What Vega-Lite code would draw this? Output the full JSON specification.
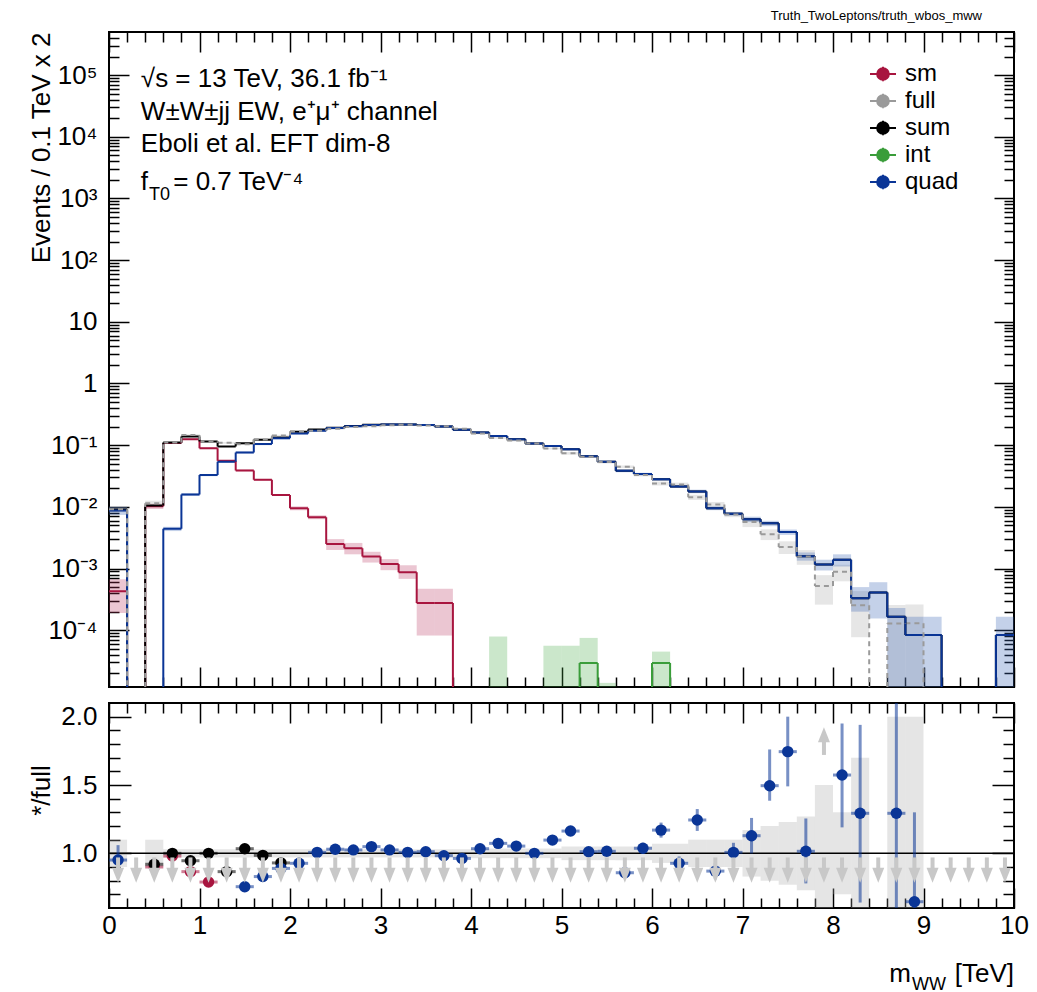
{
"$schema":"https://vega.github.io/schema/vega-lite/v6.json",
"autosize":{"type":"pad"},
"padding":{"left":26,"top":9,"right":0,"bottom":0},
"background":"white",
"bounds":"flush",
"spacing":16,
"datasets":{
"bins":[
{"x0":0,"x1":0.2,"xc":0.1,"sm":0.00043,"sml":0.00019,"smh":0.00067,"full":0.00915,"fl":0.0082,"fh":0.0101,"sum":0.0091,"int":0,"quad":0.0087,"ql":0.0074,"qh":0.01,"bl":0.9,"bh":1.1},
{"x0":0.2,"x1":0.4,"xc":0.3,"sm":0,"full":0,"sum":0,"int":0,"quad":0},
{"x0":0.4,"x1":0.6,"xc":0.5,"sm":0.0102,"sml":0.0092,"smh":0.0112,"full":0.0114,"fl":0.0103,"fh":0.0125,"sum":0.0105,"int":0,"quad":0,"bl":0.9,"bh":1.1},
{"x0":0.6,"x1":0.8,"xc":0.7,"sm":0.108,"sml":0.1048,"smh":0.1112,"full":0.11,"fl":0.1067,"fh":0.1133,"sum":0.11,"int":0,"quad":0.0044,"ql":0.00405,"qh":0.00475,"bl":0.97,"bh":1.03},
{"x0":0.8,"x1":1.0,"xc":0.9,"sm":0.125,"sml":0.1213,"smh":0.1288,"full":0.146,"fl":0.1416,"fh":0.1504,"sum":0.138,"int":0,"quad":0.0158,"ql":0.015,"qh":0.0166,"bl":0.97,"bh":1.03},
{"x0":1.0,"x1":1.2,"xc":1.1,"sm":0.089,"sml":0.0863,"smh":0.0917,"full":0.115,"fl":0.1116,"fh":0.1185,"sum":0.115,"int":0,"quad":0.0327,"ql":0.0314,"qh":0.034,"bl":0.97,"bh":1.03},
{"x0":1.2,"x1":1.4,"xc":1.3,"sm":0.0557,"sml":0.054,"smh":0.0574,"full":0.109,"fl":0.1057,"fh":0.1123,"sum":0.095,"int":0,"quad":0.054,"ql":0.0518,"qh":0.0562,"bl":0.97,"bh":1.03},
{"x0":1.4,"x1":1.6,"xc":1.5,"sm":0.039,"sml":0.0378,"smh":0.0402,"full":0.1035,"fl":0.1004,"fh":0.1066,"sum":0.107,"int":0,"quad":0.076,"ql":0.073,"qh":0.079,"bl":0.97,"bh":1.03},
{"x0":1.6,"x1":1.8,"xc":1.7,"sm":0.0275,"sml":0.0267,"smh":0.0283,"full":0.124,"fl":0.1203,"fh":0.1277,"sum":0.122,"int":0,"quad":0.104,"ql":0.0998,"qh":0.1082,"bl":0.97,"bh":1.03},
{"x0":1.8,"x1":2.0,"xc":1.9,"sm":0.0155,"sml":0.015,"smh":0.016,"full":0.143,"fl":0.1387,"fh":0.1473,"sum":0.133,"int":0,"quad":0.13,"ql":0.1248,"qh":0.1352,"bl":0.97,"bh":1.03},
{"x0":2.0,"x1":2.2,"xc":2.1,"sm":0.0095,"sml":0.0088,"smh":0.0102,"full":0.167,"fl":0.162,"fh":0.172,"sum":0.1645,"int":0,"quad":0.155,"ql":0.1504,"qh":0.1597,"bl":0.97,"bh":1.03},
{"x0":2.2,"x1":2.4,"xc":2.3,"sm":0.0068,"sml":0.0063,"smh":0.0073,"full":0.171,"fl":0.1659,"fh":0.1761,"sum":0.179,"int":0,"quad":0.172,"ql":0.1668,"qh":0.1772,"bl":0.97,"bh":1.03},
{"x0":2.4,"x1":2.6,"xc":2.5,"sm":0.0025,"sml":0.002,"smh":0.003,"full":0.184,"fl":0.1785,"fh":0.1895,"sum":0.1925,"int":0,"quad":0.19,"ql":0.1843,"qh":0.1957,"bl":0.97,"bh":1.03},
{"x0":2.6,"x1":2.8,"xc":2.7,"sm":0.00214,"sml":0.0017,"smh":0.0026,"full":0.198,"fl":0.1921,"fh":0.2039,"sum":0.205,"int":0,"quad":0.203,"ql":0.1969,"qh":0.2091,"bl":0.97,"bh":1.03},
{"x0":2.8,"x1":3.0,"xc":2.9,"sm":0.00156,"sml":0.00125,"smh":0.00187,"full":0.202,"fl":0.1959,"fh":0.2081,"sum":0.2136,"int":0,"quad":0.212,"ql":0.2056,"qh":0.2184,"bl":0.97,"bh":1.03},
{"x0":3.0,"x1":3.2,"xc":3.1,"sm":0.00118,"sml":0.00094,"smh":0.00142,"full":0.211,"fl":0.2047,"fh":0.2173,"sum":0.2172,"int":0,"quad":0.216,"ql":0.2095,"qh":0.2225,"bl":0.97,"bh":1.03},
{"x0":3.2,"x1":3.4,"xc":3.3,"sm":0.00087,"sml":0.00068,"smh":0.00113,"full":0.214,"fl":0.2076,"fh":0.2204,"sum":0.2169,"int":0,"quad":0.216,"ql":0.2095,"qh":0.2225,"bl":0.97,"bh":1.03},
{"x0":3.4,"x1":3.6,"xc":3.5,"sm":0.000277,"sml":0.000082,"smh":0.00047,"full":0.209,"fl":0.2027,"fh":0.2153,"sum":0.2123,"int":0,"quad":0.212,"ql":0.2056,"qh":0.2184,"bl":0.97,"bh":1.03},
{"x0":3.6,"x1":3.8,"xc":3.7,"sm":0.000277,"sml":0.000082,"smh":0.00047,"full":0.203,"fl":0.1969,"fh":0.2091,"sum":0.2003,"int":0,"quad":0.2,"ql":0.194,"qh":0.206,"bl":0.97,"bh":1.03},
{"x0":3.8,"x1":4.0,"xc":3.9,"sm":0,"full":0.185,"fl":0.1795,"fh":0.1906,"sum":0.178,"int":0,"quad":0.178,"ql":0.1727,"qh":0.1833,"bl":0.97,"bh":1.03},
{"x0":4.0,"x1":4.2,"xc":4.1,"sm":0,"full":0.155,"fl":0.1496,"fh":0.1604,"sum":0.16,"int":0,"quad":0.16,"ql":0.1552,"qh":0.1648,"bl":0.965,"bh":1.035},
{"x0":4.2,"x1":4.4,"xc":4.3,"sm":0,"full":0.131,"fl":0.1264,"fh":0.1356,"sum":0.141,"int":0,"il":0,"ih":0.000079,"quad":0.141,"ql":0.1368,"qh":0.1452,"bl":0.965,"bh":1.035},
{"x0":4.4,"x1":4.6,"xc":4.5,"sm":0,"full":0.119,"fl":0.1148,"fh":0.1232,"sum":0.125,"int":0,"quad":0.125,"ql":0.1213,"qh":0.1288,"bl":0.965,"bh":1.035},
{"x0":4.6,"x1":4.8,"xc":4.7,"sm":0,"full":0.106,"fl":0.1023,"fh":0.1097,"sum":0.106,"int":0,"quad":0.106,"ql":0.1028,"qh":0.1092,"bl":0.965,"bh":1.035},
{"x0":4.8,"x1":5.0,"xc":4.9,"sm":0,"full":0.0884,"fl":0.0853,"fh":0.0915,"sum":0.097,"int":0,"il":0,"ih":0.000056,"quad":0.097,"ql":0.0941,"qh":0.0999,"bl":0.965,"bh":1.035},
{"x0":5.0,"x1":5.2,"xc":5.1,"sm":0,"full":0.0739,"fl":0.0702,"fh":0.0776,"sum":0.086,"int":0,"il":0,"ih":0.000056,"quad":0.086,"ql":0.0834,"qh":0.0886,"bl":0.95,"bh":1.05},
{"x0":5.2,"x1":5.4,"xc":5.3,"sm":0,"full":0.0652,"fl":0.0619,"fh":0.0685,"sum":0.066,"int":0.0000295,"il":0,"ih":0.000075,"quad":0.066,"ql":0.064,"qh":0.068,"bl":0.95,"bh":1.05},
{"x0":5.4,"x1":5.6,"xc":5.5,"sm":0,"full":0.0532,"fl":0.0505,"fh":0.0559,"sum":0.054,"int":0,"il":0,"ih":0.000014,"quad":0.054,"ql":0.0524,"qh":0.0556,"bl":0.95,"bh":1.05},
{"x0":5.6,"x1":5.8,"xc":5.7,"sm":0,"full":0.0448,"fl":0.0426,"fh":0.047,"sum":0.0384,"int":0,"quad":0.0384,"ql":0.0365,"qh":0.0403,"bl":0.95,"bh":1.05},
{"x0":5.8,"x1":6.0,"xc":5.9,"sm":0,"full":0.0328,"fl":0.0312,"fh":0.0344,"sum":0.034,"int":0,"quad":0.034,"ql":0.0323,"qh":0.0357,"bl":0.95,"bh":1.05},
{"x0":6.0,"x1":6.2,"xc":6.1,"sm":0,"full":0.0239,"fl":0.0222,"fh":0.0256,"sum":0.028,"int":0.0000295,"il":0,"ih":0.000045,"quad":0.028,"ql":0.0266,"qh":0.0294,"bl":0.93,"bh":1.07},
{"x0":6.2,"x1":6.4,"xc":6.3,"sm":0,"full":0.0231,"fl":0.0215,"fh":0.0247,"sum":0.0214,"int":0,"quad":0.0214,"ql":0.0203,"qh":0.0225,"bl":0.93,"bh":1.07},
{"x0":6.4,"x1":6.6,"xc":6.5,"sm":0,"full":0.0143,"fl":0.0129,"fh":0.0157,"sum":0.0178,"int":0,"quad":0.0178,"ql":0.0166,"qh":0.019,"bl":0.9,"bh":1.1},
{"x0":6.6,"x1":6.8,"xc":6.7,"sm":0,"full":0.0109,"fl":0.0098,"fh":0.012,"sum":0.0095,"int":0,"quad":0.0095,"ql":0.00884,"qh":0.01017,"bl":0.9,"bh":1.1},
{"x0":6.8,"x1":7.0,"xc":6.9,"sm":0,"full":0.00755,"fl":0.0068,"fh":0.0083,"sum":0.0077,"int":0,"quad":0.0077,"ql":0.00716,"qh":0.00824,"bl":0.9,"bh":1.1},
{"x0":7.0,"x1":7.2,"xc":7.1,"sm":0,"full":0.00567,"fl":0.0047,"fh":0.00663,"sum":0.0063,"int":0,"quad":0.0063,"ql":0.00567,"qh":0.00693,"bl":0.83,"bh":1.17},
{"x0":7.2,"x1":7.4,"xc":7.3,"sm":0,"full":0.00361,"fl":0.00289,"fh":0.00433,"sum":0.0054,"int":0,"quad":0.0054,"ql":0.00486,"qh":0.00594,"bl":0.8,"bh":1.2},
{"x0":7.4,"x1":7.6,"xc":7.5,"sm":0,"full":0.00224,"fl":0.00172,"fh":0.00276,"sum":0.0039,"int":0,"quad":0.0039,"ql":0.00351,"qh":0.00429,"bl":0.77,"bh":1.23},
{"x0":7.6,"x1":7.8,"xc":7.7,"sm":0,"full":0.00157,"fl":0.00115,"fh":0.00199,"sum":0.00158,"int":0,"quad":0.00158,"ql":0.00134,"qh":0.00182,"bl":0.73,"bh":1.27},
{"x0":7.8,"x1":8.0,"xc":7.9,"sm":0,"full":0.00052,"fl":0.00026,"fh":0.00078,"sum":0.00116,"int":0,"quad":0.00116,"ql":0.00093,"qh":0.00139,"bl":0.5,"bh":1.5},
{"x0":8.0,"x1":8.2,"xc":8.1,"sm":0,"full":0.000884,"fl":0.00062,"fh":0.00115,"sum":0.00139,"int":0,"quad":0.00139,"ql":0.00108,"qh":0.0017,"bl":0.7,"bh":1.3},
{"x0":8.2,"x1":8.4,"xc":8.3,"sm":0,"full":0.000255,"fl":0.000077,"fh":0.00043,"sum":0.00033,"int":0,"quad":0.00033,"ql":0.0002,"qh":0.0005,"bl":0.3,"bh":1.7},
{"x0":8.4,"x1":8.6,"xc":8.5,"sm":0,"full":0,"sum":0.00041,"int":0,"quad":0.00041,"ql":0.000155,"qh":0.0006},
{"x0":8.6,"x1":8.8,"xc":8.7,"sm":0,"full":0.000128,"fl":0,"fh":0.000256,"sum":0.000166,"int":0,"quad":0.000166,"ql":0,"qh":0.00023,"bl":0,"bh":2},
{"x0":8.8,"x1":9.0,"xc":8.9,"sm":0,"full":0.00013,"fl":0,"fh":0.00026,"sum":0.000084,"int":0,"quad":0.000084,"ql":0,"qh":0.000166,"bl":0,"bh":2},
{"x0":9.0,"x1":9.2,"xc":9.1,"sm":0,"full":0,"sum":0.000084,"int":0,"quad":0.000084,"ql":0,"qh":0.000166},
{"x0":9.2,"x1":9.4,"xc":9.3,"sm":0,"full":0,"sum":0,"int":0,"quad":0},
{"x0":9.4,"x1":9.6,"xc":9.5,"sm":0,"full":0,"sum":0,"int":0,"quad":0},
{"x0":9.6,"x1":9.8,"xc":9.7,"sm":0,"full":0,"sum":0,"int":0,"quad":0},
{"x0":9.8,"x1":10,"xc":9.9,"sm":0,"full":0,"sum":0.000084,"int":0,"quad":0.000084,"ql":0,"qh":0.000166}
],
"pts":[
{"s":"sm","x":0.5,"x0":0.4,"x1":0.6,"r":0.9,"lo":0.88,"hi":0.92},
{"s":"sm","x":0.7,"x0":0.6,"x1":0.8,"r":0.98,"lo":0.96,"hi":1.0},
{"s":"sm","x":0.9,"x0":0.8,"x1":1.0,"r":0.866,"lo":0.846,"hi":0.886},
{"s":"sm","x":1.1,"x0":1.0,"x1":1.2,"r":0.79,"lo":0.77,"hi":0.81},
{"s":"sum","x":0.5,"x0":0.4,"x1":0.6,"r":0.92,"lo":0.9,"hi":0.94},
{"s":"sum","x":0.7,"x0":0.6,"x1":0.8,"r":1.0,"lo":0.98,"hi":1.02},
{"s":"sum","x":0.9,"x0":0.8,"x1":1.0,"r":0.946,"lo":0.926,"hi":0.966},
{"s":"sum","x":1.1,"x0":1.0,"x1":1.2,"r":1.0,"lo":0.98,"hi":1.02},
{"s":"sum","x":1.3,"x0":1.2,"x1":1.4,"r":0.866,"lo":0.846,"hi":0.886},
{"s":"sum","x":1.5,"x0":1.4,"x1":1.6,"r":1.034,"lo":1.014,"hi":1.054},
{"s":"sum","x":1.7,"x0":1.6,"x1":1.8,"r":0.985,"lo":0.965,"hi":1.005},
{"s":"sum","x":1.9,"x0":1.8,"x1":2.0,"r":0.93,"lo":0.91,"hi":0.95},
{"s":"quad","x":0.1,"x0":0.0,"x1":0.2,"r":0.951,"lo":0.85,"hi":1.06},
{"s":"quad","x":1.5,"x0":1.4,"x1":1.6,"r":0.756,"lo":0.726,"hi":0.786},
{"s":"quad","x":1.7,"x0":1.6,"x1":1.8,"r":0.83,"lo":0.8,"hi":0.86},
{"s":"quad","x":1.9,"x0":1.8,"x1":2.0,"r":0.89,"lo":0.86,"hi":0.92},
{"s":"quad","x":2.1,"x0":2.0,"x1":2.2,"r":0.927,"lo":0.907,"hi":0.947},
{"s":"quad","x":2.3,"x0":2.2,"x1":2.4,"r":1.007,"lo":0.987,"hi":1.027},
{"s":"quad","x":2.5,"x0":2.4,"x1":2.6,"r":1.03,"lo":1.01,"hi":1.05},
{"s":"quad","x":2.7,"x0":2.6,"x1":2.8,"r":1.025,"lo":1.005,"hi":1.045},
{"s":"quad","x":2.9,"x0":2.8,"x1":3.0,"r":1.049,"lo":1.029,"hi":1.069},
{"s":"quad","x":3.1,"x0":3.0,"x1":3.2,"r":1.025,"lo":1.005,"hi":1.045},
{"s":"quad","x":3.3,"x0":3.2,"x1":3.4,"r":1.007,"lo":0.987,"hi":1.027},
{"s":"quad","x":3.5,"x0":3.4,"x1":3.6,"r":1.012,"lo":0.992,"hi":1.032},
{"s":"quad","x":3.7,"x0":3.6,"x1":3.8,"r":0.983,"lo":0.963,"hi":1.003},
{"s":"quad","x":3.9,"x0":3.8,"x1":4.0,"r":0.963,"lo":0.943,"hi":0.983},
{"s":"quad","x":4.1,"x0":4.0,"x1":4.2,"r":1.034,"lo":1.014,"hi":1.054},
{"s":"quad","x":4.3,"x0":4.2,"x1":4.4,"r":1.073,"lo":1.053,"hi":1.093},
{"s":"quad","x":4.5,"x0":4.4,"x1":4.6,"r":1.053,"lo":1.033,"hi":1.073},
{"s":"quad","x":4.7,"x0":4.6,"x1":4.8,"r":1.0,"lo":0.98,"hi":1.02},
{"s":"quad","x":4.9,"x0":4.8,"x1":5.0,"r":1.097,"lo":1.072,"hi":1.122},
{"s":"quad","x":5.1,"x0":5.0,"x1":5.2,"r":1.163,"lo":1.133,"hi":1.193},
{"s":"quad","x":5.3,"x0":5.2,"x1":5.4,"r":1.012,"lo":0.982,"hi":1.042},
{"s":"quad","x":5.5,"x0":5.4,"x1":5.6,"r":1.015,"lo":0.985,"hi":1.045},
{"s":"quad","x":5.7,"x0":5.6,"x1":5.8,"r":0.858,"lo":0.828,"hi":0.888},
{"s":"quad","x":5.9,"x0":5.8,"x1":6.0,"r":1.037,"lo":0.997,"hi":1.077},
{"s":"quad","x":6.1,"x0":6.0,"x1":6.2,"r":1.17,"lo":1.115,"hi":1.225},
{"s":"quad","x":6.3,"x0":6.2,"x1":6.4,"r":0.927,"lo":0.877,"hi":0.977},
{"s":"quad","x":6.5,"x0":6.4,"x1":6.6,"r":1.244,"lo":1.164,"hi":1.324},
{"s":"quad","x":6.7,"x0":6.6,"x1":6.8,"r":0.87,"lo":0.81,"hi":0.93},
{"s":"quad","x":6.9,"x0":6.8,"x1":7.0,"r":1.007,"lo":0.937,"hi":1.077},
{"s":"quad","x":7.1,"x0":7.0,"x1":7.2,"r":1.129,"lo":0.999,"hi":1.259},
{"s":"quad","x":7.3,"x0":7.2,"x1":7.4,"r":1.495,"lo":1.385,"hi":1.76},
{"s":"quad","x":7.5,"x0":7.4,"x1":7.6,"r":1.744,"lo":1.49,"hi":2.0},
{"s":"quad","x":7.7,"x0":7.6,"x1":7.8,"r":1.015,"lo":0.78,"hi":1.255},
{"s":"quad","x":8.1,"x0":8.0,"x1":8.2,"r":1.573,"lo":1.19,"hi":1.95},
{"s":"quad","x":8.3,"x0":8.2,"x1":8.4,"r":1.293,"lo":0.64,"hi":1.94},
{"s":"quad","x":8.7,"x0":8.6,"x1":8.8,"r":1.293,"lo":0.0,"hi":2.6},
{"s":"quad","x":8.9,"x0":8.8,"x1":9.0,"r":0.646,"lo":0.0,"hi":1.3}
]
},
"vconcat":[
{
"width":905,"height":655,
"title":{"text":"Truth_TwoLeptons/truth_wbos_mww","anchor":"end","fontSize":13,"fontWeight":"normal","font":"Liberation Sans","color":"black","offset":8,"dx":-33},
"data":{"name":"bins"},
"layer":[
{"transform":[{"filter":"isValid(datum.sml)"}],
 "mark":{"type":"rect","fill":"#b8325c","fillOpacity":0.28},
 "encoding":{
  "x":{"field":"x0","type":"quantitative","scale":{"domain":[0,10],"nice":false,"zero":false},"axis":{"orient":"bottom","values":[0,1,2,3,4,5,6,7,8,9,10],"labels":false,"tickSize":-20,"title":null}},
  "x2":{"field":"x1"},
  "y":{"field":"sml","type":"quantitative","scale":{"type":"log","domain":[0.000012,500000],"nice":false,"clamp":true},"axis":{"orient":"left","values":[0.0001,0.001,0.01,0.1,1,10,100,1000,10000,100000],"labelExpr":"datum.value > 50000 ? '10⁵' : datum.value > 5000 ? '10⁴' : datum.value > 500 ? '10³' : datum.value > 50 ? '10²' : datum.value > 5 ? '10' : datum.value > 0.5 ? '1' : datum.value > 0.05 ? '10⁻¹' : datum.value > 0.005 ? '10⁻²' : datum.value > 0.0005 ? '10⁻³' : '10⁻⁴'","tickSize":-20,"labelPadding":32,"title":"Events / 0.1 TeV x 2","titleAngle":-90,"titleX":-68,"titleY":0,"titleAlign":"right","titleBaseline":"middle"}},
  "y2":{"field":"smh"}}},
{"transform":[{"filter":"isValid(datum.fl)"}],
 "mark":{"type":"rect","fill":"#9a9a9a","fillOpacity":0.25},
 "encoding":{
  "x":{"field":"x0","type":"quantitative","axis":{"orient":"bottom","values":[0.2,0.4,0.6,0.8,1.2,1.4,1.6,1.8,2.2,2.4,2.6,2.8,3.2,3.4,3.6,3.8,4.2,4.4,4.6,4.8,5.2,5.4,5.6,5.8,6.2,6.4,6.6,6.8,7.2,7.4,7.6,7.8,8.2,8.4,8.6,8.8,9.2,9.4,9.6,9.8],"labels":false,"tickSize":-10,"title":null}},
  "x2":{"field":"x1"},
  "y":{"field":"fl","type":"quantitative","axis":{"orient":"left","values":[0.00002,0.00003,0.00004,0.00005,0.00006,0.00007,0.00008,0.00009,0.0002,0.0003,0.0004,0.0005,0.0006,0.0007,0.0008,0.0009,0.002,0.003,0.004,0.005,0.006,0.007,0.008,0.009,0.02,0.03,0.04,0.05,0.06,0.07,0.08,0.09,0.2,0.3,0.4,0.5,0.6,0.7,0.8,0.9,2,3,4,5,6,7,8,9,20,30,40,50,60,70,80,90,200,300,400,500,600,700,800,900,2000,3000,4000,5000,6000,7000,8000,9000,20000,30000,40000,50000,60000,70000,80000,90000,200000,300000,400000],"labels":false,"tickSize":-10,"title":null}},
  "y2":{"field":"fh"}}},
{"transform":[{"filter":"isValid(datum.il)"}],
 "mark":{"type":"rect","fill":"#45a845","fillOpacity":0.28},
 "encoding":{
  "x":{"field":"x0","type":"quantitative","axis":{"orient":"top","values":[0,1,2,3,4,5,6,7,8,9,10],"labels":false,"tickSize":-20,"title":null}},
  "x2":{"field":"x1"},
  "y":{"field":"il","type":"quantitative","axis":{"orient":"right","values":[0.0001,0.001,0.01,0.1,1,10,100,1000,10000,100000],"labels":false,"tickSize":-20,"title":null}},
  "y2":{"field":"ih"}}},
{"transform":[{"filter":"isValid(datum.ql)"}],
 "mark":{"type":"rect","fill":"#3d68b5","fillOpacity":0.3},
 "encoding":{
  "x":{"field":"x0","type":"quantitative","axis":{"orient":"top","values":[0.2,0.4,0.6,0.8,1.2,1.4,1.6,1.8,2.2,2.4,2.6,2.8,3.2,3.4,3.6,3.8,4.2,4.4,4.6,4.8,5.2,5.4,5.6,5.8,6.2,6.4,6.6,6.8,7.2,7.4,7.6,7.8,8.2,8.4,8.6,8.8,9.2,9.4,9.6,9.8],"labels":false,"tickSize":-10,"title":null}},
  "x2":{"field":"x1"},
  "y":{"field":"ql","type":"quantitative","axis":{"orient":"right","values":[0.00002,0.00003,0.00004,0.00005,0.00006,0.00007,0.00008,0.00009,0.0002,0.0003,0.0004,0.0005,0.0006,0.0007,0.0008,0.0009,0.002,0.003,0.004,0.005,0.006,0.007,0.008,0.009,0.02,0.03,0.04,0.05,0.06,0.07,0.08,0.09,0.2,0.3,0.4,0.5,0.6,0.7,0.8,0.9,2,3,4,5,6,7,8,9,20,30,40,50,60,70,80,90,200,300,400,500,600,700,800,900,2000,3000,4000,5000,6000,7000,8000,9000,20000,30000,40000,50000,60000,70000,80000,90000,200000,300000,400000],"labels":false,"tickSize":-10,"title":null}},
  "y2":{"field":"qh"}}},
{"transform":[{"fold":["sm","sum","int","quad","full"],"as":["s","v"]},{"filter":"datum.v > 0"}],
 "mark":{"type":"rule","strokeWidth":2},
 "encoding":{
  "x":{"field":"x0","type":"quantitative","axis":null},
  "x2":{"field":"x1"},
  "y":{"field":"v","type":"quantitative","axis":null},
  "color":{"field":"s","type":"nominal","scale":{"domain":["sm","full","sum","int","quad"],"range":["#a8153f","#9a9a9a","#000000","#3a9d3a","#0a3596"]},
   "legend":{"orient":"none","legendX":760,"legendY":28,"title":null,"padding":0,"symbolType":"M-1,0L1,0M0,-0.55L0,0.55M0.45,0A0.45,0.45,0,1,1,-0.45,0A0.45,0.45,0,1,1,0.45,0Z","symbolSize":676,"symbolStrokeWidth":2,"labelFont":"Liberation Sans","labelFontSize":24,"labelColor":"black","labelOffset":8,"rowPadding":1}},
  "strokeDash":{"condition":{"test":"datum.s === 'full'","value":[5,4]},"value":[1,0]}}},
{"transform":[{"fold":["sm","sum","int","quad","full"],"as":["s","v"]},{"window":[{"op":"lead","field":"v","as":"nv"}],"groupby":["s"],"sort":[{"field":"x0","order":"ascending"}]},{"filter":"isValid(datum.nv) && datum.nv !== datum.v"}],
 "mark":{"type":"rule","strokeWidth":2},
 "encoding":{
  "x":{"field":"x1","type":"quantitative","axis":null},
  "y":{"field":"v","type":"quantitative","axis":null},
  "y2":{"field":"nv"},
  "color":{"field":"s","type":"nominal"},
  "strokeDash":{"condition":{"test":"datum.s === 'full'","value":[5,4]},"value":[1,0]}}},
{"transform":[{"fold":["sm","sum","int","quad","full"],"as":["s","v"]},{"filter":"false"}],
 "mark":{"type":"point","shape":"circle","filled":true,"opacity":1},
 "encoding":{
  "x":{"field":"xc","type":"quantitative","axis":null},
  "y":{"field":"v","type":"quantitative","axis":null},
  "fill":{"field":"s","type":"nominal","scale":{"domain":["sm","full","sum","int","quad"],"range":["#a8153f","#9a9a9a","#000000","#3a9d3a","#0a3596"]},
   "legend":{"title":null}}}},
{"data":{"values":[{}]},"mark":{"type":"text","align":"left","baseline":"alphabetic","fontSize":26,"font":"Liberation Sans","color":"black"},
 "encoding":{"x":{"datum":0.352,"type":"quantitative","axis":null},"y":{"datum":64900,"type":"quantitative","axis":null},"text":{"value":"√s = 13 TeV, 36.1 fb⁻¹"}}},
{"data":{"values":[{}]},"mark":{"type":"text","align":"left","baseline":"alphabetic","fontSize":26,"font":"Liberation Sans","color":"black"},
 "encoding":{"x":{"datum":0.352,"type":"quantitative","axis":null},"y":{"datum":18700,"type":"quantitative","axis":null},"text":{"value":"W±W±jj EW, e⁺μ⁺ channel"}}},
{"data":{"values":[{}]},"mark":{"type":"text","align":"left","baseline":"alphabetic","fontSize":26,"font":"Liberation Sans","color":"black"},
 "encoding":{"x":{"datum":0.352,"type":"quantitative","axis":null},"y":{"datum":5730,"type":"quantitative","axis":null},"text":{"value":"Eboli et al. EFT dim-8"}}},
{"data":{"values":[{}]},"mark":{"type":"text","align":"left","baseline":"alphabetic","fontSize":26,"font":"Liberation Sans","color":"black"},
 "encoding":{"x":{"datum":0.352,"type":"quantitative","axis":null},"y":{"datum":1371,"type":"quantitative","axis":null},"text":{"value":"f"}}},
{"data":{"values":[{}]},"mark":{"type":"text","align":"left","baseline":"alphabetic","fontSize":18,"font":"Liberation Sans","color":"black"},
 "encoding":{"x":{"datum":0.442,"type":"quantitative","axis":null},"y":{"datum":944,"type":"quantitative","axis":null},"text":{"value":"T0"}}},
{"data":{"values":[{}]},"mark":{"type":"text","align":"left","baseline":"alphabetic","fontSize":26,"font":"Liberation Sans","color":"black"},
 "encoding":{"x":{"datum":0.71,"type":"quantitative","axis":null},"y":{"datum":1371,"type":"quantitative","axis":null},"text":{"value":"= 0.7 TeV⁻⁴"}}}
],
"resolve":{"axis":{"x":"independent","y":"independent"}}
},
{
"width":905,"height":205,
"layer":[
{"data":{"name":"bins"},"transform":[{"filter":"isValid(datum.bl)"}],
 "mark":{"type":"rect","fill":"#aaaaaa","fillOpacity":0.3,"clip":true},
 "encoding":{
  "x":{"field":"x0","type":"quantitative","scale":{"domain":[0,10],"nice":false,"zero":false},"axis":{"orient":"bottom","values":[0,1,2,3,4,5,6,7,8,9,10],"format":"d","tickSize":-20,"labelPadding":24,"title":null}},
  "x2":{"field":"x1"},
  "y":{"field":"bl","type":"quantitative","scale":{"domain":[0.6,2.1],"nice":false,"zero":false},"axis":{"orient":"left","values":[1,1.5,2],"format":".1f","tickSize":-22,"labelPadding":34,"title":"*/full","titleAngle":-90,"titleX":-68,"titleY":87,"titleAlign":"center","titleBaseline":"middle"}},
  "y2":{"field":"bh"}}},
{"data":{"values":[{}]},"mark":{"type":"rule","color":"black","strokeWidth":1.5},
 "encoding":{"y":{"datum":1,"type":"quantitative","axis":null}}},
{"data":{"name":"pts"},
 "mark":{"type":"rule","strokeWidth":3,"opacity":0.55,"clip":true},
 "encoding":{
  "x":{"field":"x","type":"quantitative","axis":{"orient":"bottom","values":[0.2,0.4,0.6,0.8,1.2,1.4,1.6,1.8,2.2,2.4,2.6,2.8,3.2,3.4,3.6,3.8,4.2,4.4,4.6,4.8,5.2,5.4,5.6,5.8,6.2,6.4,6.6,6.8,7.2,7.4,7.6,7.8,8.2,8.4,8.6,8.8,9.2,9.4,9.6,9.8],"labels":false,"tickSize":-10,"title":null}},
  "y":{"field":"lo","type":"quantitative","axis":{"orient":"left","values":[0.7,0.8,0.9,1.1,1.2,1.3,1.4,1.6,1.7,1.8,1.9],"labels":false,"tickSize":-11,"title":null}},
  "y2":{"field":"hi"},
  "color":{"condition":[{"test":"datum.s === 'sm'","value":"#a8153f"},{"test":"datum.s === 'sum'","value":"#000000"}],"value":"#0a3596"}}},
{"data":{"name":"pts"},
 "mark":{"type":"rule","strokeWidth":3,"opacity":0.55},
 "encoding":{
  "x":{"field":"x0","type":"quantitative","axis":{"orient":"top","values":[0,1,2,3,4,5,6,7,8,9,10],"labels":false,"tickSize":-20,"title":null}},
  "x2":{"field":"x1"},
  "y":{"field":"r","type":"quantitative","axis":{"orient":"right","values":[1,1.5,2],"labels":false,"tickSize":-22,"title":null}},
  "color":{"condition":[{"test":"datum.s === 'sm'","value":"#a8153f"},{"test":"datum.s === 'sum'","value":"#000000"}],"value":"#0a3596"}}},
{"data":{"name":"pts"},
 "mark":{"type":"point","shape":"circle","filled":true,"size":130,"opacity":1},
 "encoding":{
  "x":{"field":"x","type":"quantitative","axis":{"orient":"top","values":[0.2,0.4,0.6,0.8,1.2,1.4,1.6,1.8,2.2,2.4,2.6,2.8,3.2,3.4,3.6,3.8,4.2,4.4,4.6,4.8,5.2,5.4,5.6,5.8,6.2,6.4,6.6,6.8,7.2,7.4,7.6,7.8,8.2,8.4,8.6,8.8,9.2,9.4,9.6,9.8],"labels":false,"tickSize":-10,"title":null}},
  "y":{"field":"r","type":"quantitative","axis":{"orient":"right","values":[0.7,0.8,0.9,1.1,1.2,1.3,1.4,1.6,1.7,1.8,1.9],"labels":false,"tickSize":-11,"title":null}},
  "color":{"condition":[{"test":"datum.s === 'sm'","value":"#a8153f"},{"test":"datum.s === 'sum'","value":"#000000"}],"value":"#0a3596"}}},
{"data":{"name":"bins"},
 "mark":{"type":"rule","color":"#c8c8c8","strokeWidth":4},
 "encoding":{"x":{"field":"xc","type":"quantitative","axis":null},"y":{"datum":0.97,"type":"quantitative","axis":null},"y2":{"datum":0.89}}},
{"data":{"name":"bins"},
 "mark":{"type":"point","shape":"M-0.8,-1L0.8,-1L0,1Z","filled":true,"size":225,"color":"#c8c8c8","opacity":1},
 "encoding":{"x":{"field":"xc","type":"quantitative","axis":null},"y":{"datum":0.84,"type":"quantitative","axis":null}}},
{"data":{"values":[{}]},
 "mark":{"type":"rule","color":"#c8c8c8","strokeWidth":4},
 "encoding":{"x":{"datum":7.9,"type":"quantitative","axis":null},"y":{"datum":1.72,"type":"quantitative","axis":null},"y2":{"datum":1.82}}},
{"data":{"values":[{}]},
 "mark":{"type":"point","shape":"M-0.8,1L0.8,1L0,-1Z","filled":true,"size":225,"color":"#c8c8c8","opacity":1},
 "encoding":{"x":{"datum":7.9,"type":"quantitative","axis":null},"y":{"datum":1.868,"type":"quantitative","axis":null}}},
{"data":{"values":[{}]},"mark":{"type":"text","align":"right","baseline":"alphabetic","fontSize":26,"font":"Liberation Sans","color":"black"},
 "encoding":{"x":{"datum":8.862,"type":"quantitative","axis":null},"y":{"datum":0.061,"type":"quantitative","axis":null},"text":{"value":"m"}}},
{"data":{"values":[{}]},"mark":{"type":"text","align":"left","baseline":"alphabetic","fontSize":18,"font":"Liberation Sans","color":"black"},
 "encoding":{"x":{"datum":8.873,"type":"quantitative","axis":null},"y":{"datum":0.0,"type":"quantitative","axis":null},"text":{"value":"WW"}}},
{"data":{"values":[{}]},"mark":{"type":"text","align":"right","baseline":"alphabetic","fontSize":26,"font":"Liberation Sans","color":"black"},
 "encoding":{"x":{"datum":10,"type":"quantitative","axis":null},"y":{"datum":0.061,"type":"quantitative","axis":null},"text":{"value":"[TeV]"}}}
],
"resolve":{"axis":{"x":"independent","y":"independent"}}
}
],
"config":{
 "view":{"stroke":"black","strokeWidth":2},
 "font":"Liberation Sans",
 "axis":{"domain":false,"grid":false,"labelFont":"Liberation Sans","labelFontSize":26,"labelColor":"black","tickColor":"black","tickWidth":1.5,"titleFont":"Liberation Sans","titleFontSize":26,"titleFontWeight":"normal","titleColor":"black","labelFlush":false,"labelOverlap":false,"labelBound":false}
}
}
